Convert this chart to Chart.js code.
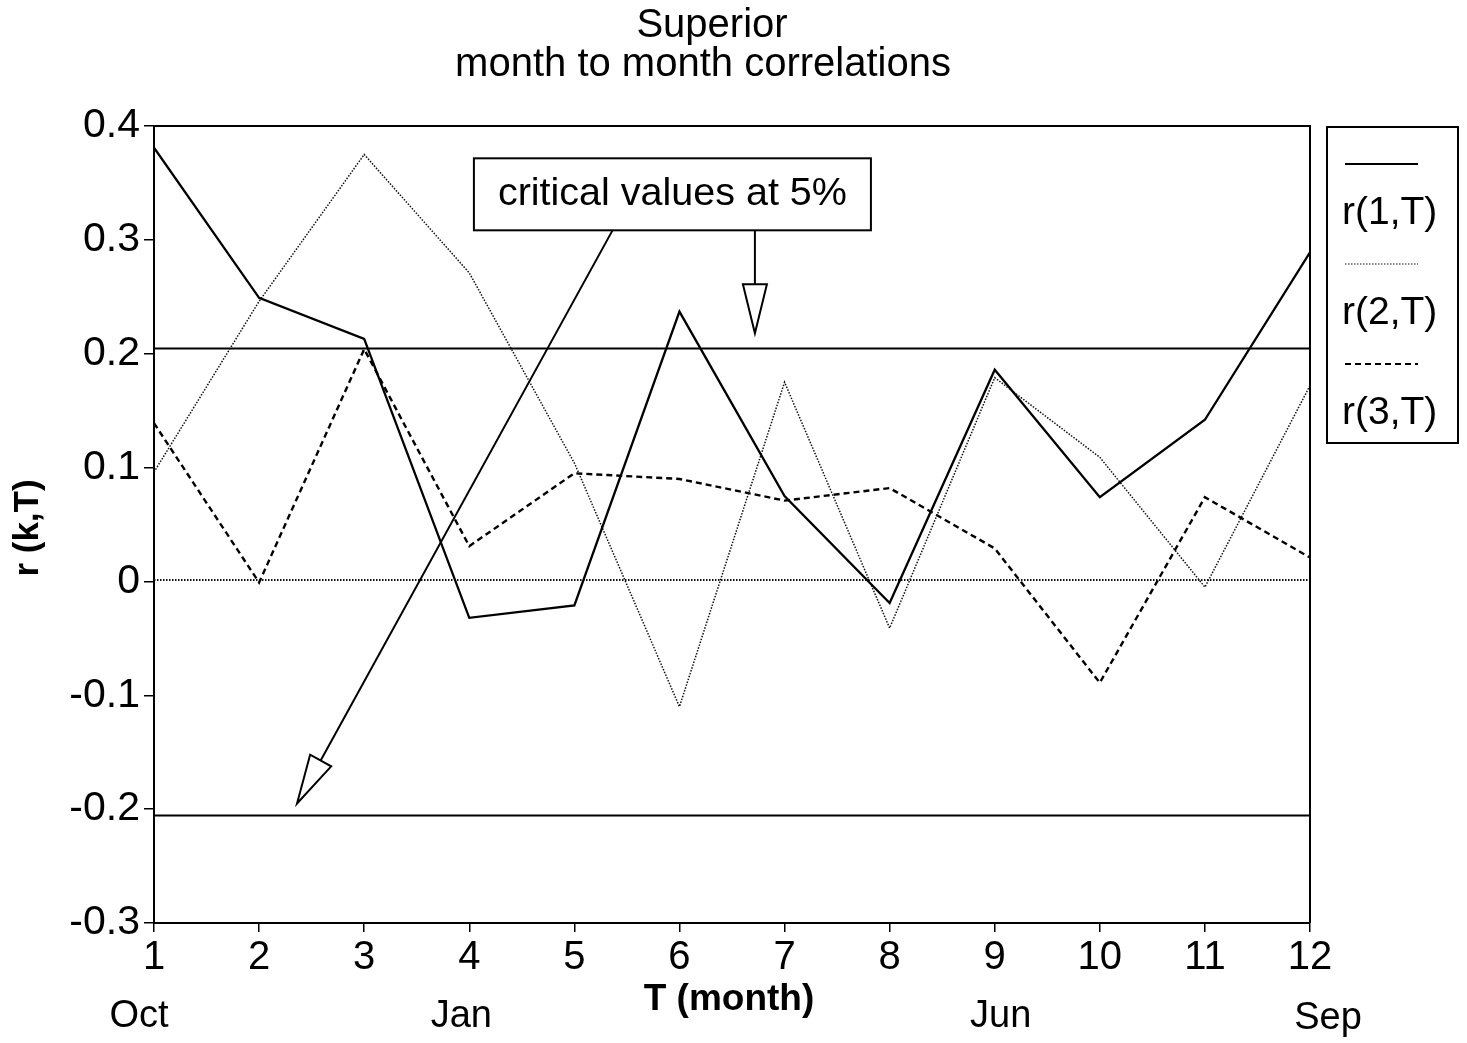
<!DOCTYPE html>
<html>
<head>
<meta charset="utf-8">
<script src="https://cdn.jsdelivr.net/npm/chart.js@4/dist/chart.umd.min.js"></script>
<style>
  html, body { margin: 0; padding: 0; background: #fff; }
  #wrap { width: 1467px; height: 1043px; }
</style>
</head>
<body>
<div id="wrap"><canvas id="c" width="1467" height="1043"></canvas></div>
<script>
// Lag (month) index T and the month it starts from
const months = [1, 2, 3, 4, 5, 6, 7, 8, 9, 10, 11, 12];
const monthNameTicks = [1, 4, 9, 12];
const monthNames = ['Oct', 'Jan', 'Jun', 'Sep'];

// Month-to-month correlations r(k,T) for lags k = 1, 2, 3
const r1 = [0.381, 0.249, 0.213, -0.032, -0.021, 0.237, 0.075, -0.019, 0.186, 0.074, 0.142, 0.289];
const r2 = [0.096, 0.246, 0.375, 0.271, 0.104, -0.110, 0.175, -0.041, 0.179, 0.109, -0.005, 0.172];
const r3 = [0.139, -0.001, 0.204, 0.031, 0.095, 0.090, 0.071, 0.082, 0.029, -0.089, 0.074, 0.021];

// Critical correlation at the 5% level
const critical = 0.205;

// Y axis ticks
const yTicks = [-0.3, -0.2, -0.1, 0, 0.1, 0.2, 0.3, 0.4];

const seriesNames = ['r(1,T)', 'r(2,T)', 'r(3,T)'];

// Callout: box anchor and two arrows, in data units (T, r)
const calloutText = 'critical values at 5%';
const calloutCenter = { x: 5.933, y: 0.340 };
const calloutArrows = [
  { from: { x: 5.367, y: 0.309 }, to: { x: 2.361, y: -0.195 } },
  { from: { x: 6.718, y: 0.309 }, to: { x: 6.718, y: 0.218 } }
];

const FONT = '"Liberation Sans", Arial, Helvetica, sans-serif';

const styles = [
  { borderColor: '#000', borderWidth: 2.3, borderDash: [] },
  { borderColor: '#111', borderWidth: 1.5, borderDash: [1.5, 1.5] },
  { borderColor: '#000', borderWidth: 2.4, borderDash: [6, 4] }
];

function pts(arr) { return months.map((m, i) => ({ x: m, y: arr[i] })); }

const decorations = {
  id: 'decorations',
  beforeDatasetsDraw(chart) {
    const { ctx, chartArea: a, scales: { x, y } } = chart;
    ctx.save();
    // critical value lines
    ctx.strokeStyle = '#000';
    ctx.lineWidth = 2;
    [critical, -critical].forEach(v => {
      const py = Math.round(y.getPixelForValue(v)) + 0.5;
      ctx.beginPath(); ctx.moveTo(a.left, py); ctx.lineTo(a.right, py); ctx.stroke();
    });
    // zero line
    ctx.setLineDash([1.5, 1.5]);
    ctx.lineWidth = 1.8;
    ctx.strokeStyle = '#111';
    const pz = Math.round(y.getPixelForValue(0)) - 1;
    ctx.beginPath(); ctx.moveTo(a.left, pz); ctx.lineTo(a.right, pz); ctx.stroke();
    ctx.restore();
  },
  afterDraw(chart) {
    const { ctx, chartArea: a, scales: { x, y } } = chart;
    ctx.save();
    // frame (top and right edges)
    ctx.strokeStyle = '#000';
    ctx.lineWidth = 2;
    ctx.beginPath();
    ctx.moveTo(a.left, a.top); ctx.lineTo(a.right, a.top); ctx.lineTo(a.right, a.bottom);
    ctx.stroke();

    // title
    ctx.fillStyle = '#000';
    ctx.textAlign = 'center';
    ctx.textBaseline = 'middle';
    ctx.font = '40px ' + FONT;
    ctx.fillText('Superior', 712, 26);
    ctx.fillText('month to month correlations', 703, 65);

    // axis titles
    ctx.font = 'bold 37px ' + FONT;
    ctx.fillText('T (month)', 729, 1000);
    ctx.save();
    ctx.translate(28, 528);
    ctx.rotate(-Math.PI / 2);
    ctx.font = 'bold 35px ' + FONT;
    ctx.fillText('r (k,T)', 0, 0);
    ctx.restore();

    // month names under the T ticks
    ctx.font = '38px ' + FONT;
    const nudge = [-15, -8, 6, 18];
    monthNameTicks.forEach((t, i) => {
      ctx.fillText(monthNames[i], x.getPixelForValue(t) + nudge[i], 1017 + (i === 3 ? 2 : 0));
    });

    // callout arrows
    ctx.lineWidth = 2;
    ctx.strokeStyle = '#000';
    calloutArrows.forEach(ar => {
      const x0 = x.getPixelForValue(ar.from.x), y0 = y.getPixelForValue(ar.from.y);
      const x1 = x.getPixelForValue(ar.to.x), y1 = y.getPixelForValue(ar.to.y);
      const dx = x1 - x0, dy = y1 - y0, len = Math.hypot(dx, dy);
      const ux = dx / len, uy = dy / len;
      const headLen = 49, halfW = 12;
      const bx = x1 - ux * headLen, by = y1 - uy * headLen;
      ctx.beginPath(); ctx.moveTo(x0, y0); ctx.lineTo(bx, by); ctx.stroke();
      ctx.beginPath();
      ctx.moveTo(bx - uy * halfW, by + ux * halfW);
      ctx.lineTo(x1, y1);
      ctx.lineTo(bx + uy * halfW, by - ux * halfW);
      ctx.closePath();
      ctx.fillStyle = '#fff';
      ctx.fill();
      ctx.stroke();
    });

    // callout box
    const cx = x.getPixelForValue(calloutCenter.x), cy = y.getPixelForValue(calloutCenter.y);
    const bw = 397, bh = 72;
    ctx.fillStyle = '#fff';
    ctx.fillRect(cx - bw / 2, cy - bh / 2, bw, bh);
    ctx.strokeRect(cx - bw / 2, cy - bh / 2, bw, bh);
    ctx.fillStyle = '#000';
    ctx.font = '39.5px ' + FONT;
    ctx.fillText(calloutText, cx, cy);

    // legend
    const lx = 1327, ly = 127, lw = 131, lh = 316;
    ctx.lineWidth = 2;
    ctx.strokeRect(lx, ly, lw, lh);
    ctx.font = '39px ' + FONT;
    ctx.textAlign = 'left';
    seriesNames.forEach((name, i) => {
      const s = styles[i];
      const rowY = 164 + i * 100;
      ctx.save();
      ctx.strokeStyle = s.borderColor;
      ctx.lineWidth = s.borderWidth * 0.8;
      ctx.setLineDash(s.borderDash);
      ctx.beginPath(); ctx.moveTo(1345, rowY); ctx.lineTo(1418, rowY); ctx.stroke();
      ctx.restore();
      ctx.fillText(name, 1342, rowY + 49);
    });
    ctx.restore();
  }
};

new Chart(document.getElementById('c'), {
  type: 'line',
  data: {
    datasets: [r1, r2, r3].map((arr, i) => ({
      label: seriesNames[i],
      data: pts(arr),
      borderColor: styles[i].borderColor,
      borderWidth: styles[i].borderWidth,
      borderDash: styles[i].borderDash,
      pointRadius: 0,
      tension: 0,
      fill: false
    }))
  },
  options: {
    responsive: false,
    animation: false,
    devicePixelRatio: 1,
    layout: { padding: { top: 126, right: 157, left: 0, bottom: 0 } },
    plugins: { legend: { display: false }, title: { display: false }, tooltip: { enabled: false } },
    scales: {
      x: {
        type: 'linear',
        min: 1, max: 12,
        afterFit(s) { s.height = 120; },
        afterBuildTicks(s) { s.ticks = months.map(v => ({ value: v })); },
        ticks: {
          color: '#000',
          font: { family: FONT, size: 40 },
          padding: 2,
          maxRotation: 0,
          autoSkip: false,
          callback: v => String(v)
        },
        grid: { drawOnChartArea: false, color: '#000', lineWidth: 1.5, tickLength: 9 },
        border: { color: '#000', width: 2 }
      },
      y: {
        min: -0.3, max: 0.4,
        afterFit(s) { s.width = 154; },
        afterBuildTicks(s) { s.ticks = yTicks.map(v => ({ value: v })); },
        ticks: {
          color: '#000',
          font: { family: FONT, size: 41 },
          padding: 4,
          callback: v => String(Number(v.toFixed(1)))
        },
        grid: { drawOnChartArea: false, color: '#000', lineWidth: 1.5, tickLength: 10 },
        border: { color: '#000', width: 2 }
      }
    }
  },
  plugins: [decorations]
});
</script>
</body>
</html>
